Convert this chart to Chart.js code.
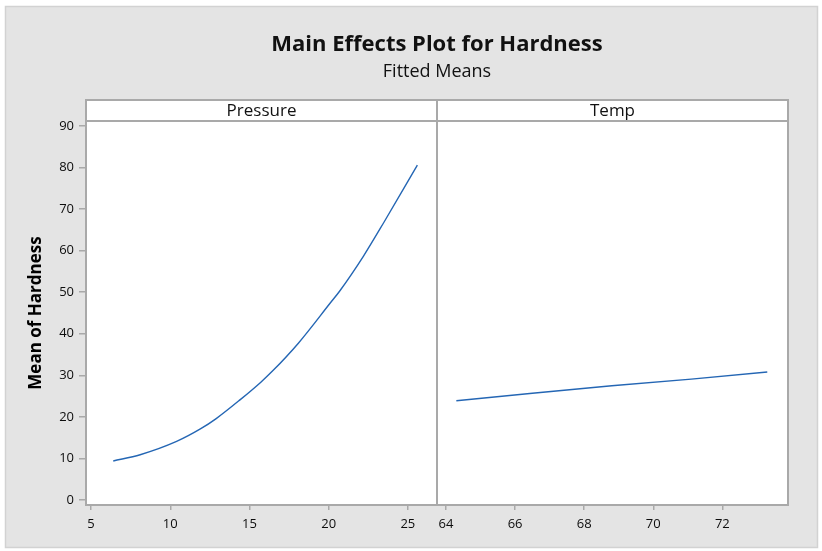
<!DOCTYPE html>
<html>
<head>
<meta charset="utf-8">
<script src="https://cdn.jsdelivr.net/npm/chart.js@4.4.1/dist/chart.umd.min.js"></script>
<style>
  html, body { margin: 0; padding: 0; background: #ffffff; }
  #wrap { position: relative; width: 822px; height: 551px; }
</style>
</head>
<body>
<div id="wrap"><canvas id="chart" width="822" height="551"></canvas></div>
<script>
// Fitted means of Hardness for each factor
const panelNames = ['Pressure', 'Temp'];

const pressureX = [6.4, 8.1, 10.4, 11.9, 12.9, 14.4, 15.7, 16.5, 18.1, 20.1, 20.7, 22.2, 23.5, 25.6];
const pressureY = [9.4, 10.9, 14.1, 17.1, 19.6, 24.1, 28.3, 31.2, 37.8, 47.4, 50.3, 58.7, 66.9, 80.6];

const tempX = [64.3, 66.5, 68.8, 71.1, 73.3];
const tempY = [23.9, 25.7, 27.5, 29.1, 30.8];

const pressureTicks = [5, 10, 15, 20, 25];
const tempTicks = [64, 66, 68, 70, 72];
const hardnessTicks = [0, 10, 20, 30, 40, 50, 60, 70, 80, 90];

const FONT = "'Open Sans', 'Noto Sans', sans-serif";
const FRAME = '#a9a9a9';
const LINE = '#2466b4';
const HEADER_TOP = 100;

const toPoints = (xs, ys) => xs.map((x, i) => ({ x, y: ys[i] }));

// Grey backdrop, white plotting panels, framed panels with header strips
const panelPlugin = {
  id: 'panels',
  beforeDraw(chart) {
    const { ctx, chartArea } = chart;
    ctx.save();
    ctx.fillStyle = '#ffffff';
    ctx.fillRect(0, 0, chart.width, chart.height);
    ctx.fillStyle = '#e4e4e4';
    ctx.fillRect(5, 6, chart.width - 9, chart.height - 9);
    ctx.strokeStyle = '#d2d2d2';
    ctx.lineWidth = 1.5;
    ctx.strokeRect(5.5, 6.5, chart.width - 10, chart.height - 10);
    ctx.fillStyle = '#ffffff';
    ctx.fillRect(chartArea.left, HEADER_TOP, chartArea.right - chartArea.left, chartArea.bottom - HEADER_TOP);
    ctx.restore();
  },
  afterDraw(chart) {
    const { ctx, chartArea } = chart;
    ctx.save();
    ctx.strokeStyle = FRAME;
    ctx.lineWidth = 2;
    ['x1', 'x2'].forEach((id, i) => {
      const s = chart.scales[id];
      ctx.strokeRect(s.left, HEADER_TOP, s.width, chartArea.top - HEADER_TOP);
      ctx.strokeRect(s.left, chartArea.top, s.width, chartArea.bottom - chartArea.top);
      ctx.fillStyle = '#111111';
      ctx.font = "17px " + FONT;
      ctx.textAlign = 'center';
      ctx.textBaseline = 'middle';
      ctx.fillText(panelNames[i], s.left + s.width / 2, (HEADER_TOP + chartArea.top) / 2 + 1);
    });
    ctx.restore();
  }
};

const tickFont = { family: FONT, size: 13 };

function xScale(min, max, ticks) {
  return {
    type: 'linear',
    position: 'bottom',
    stack: 'panels',
    stackWeight: 1,
    min, max,
    afterBuildTicks: s => { s.ticks = ticks.map(v => ({ value: v })); },
    afterFit: s => { s.height = 32; },
    grid: { display: true, drawOnChartArea: false, drawTicks: true, tickLength: 5, color: FRAME, lineWidth: 1.5 },
    border: { display: false },
    ticks: { font: tickFont, color: '#0d0d0d', padding: 6, maxRotation: 0, autoSkip: false }
  };
}

new Chart(document.getElementById('chart'), {
  type: 'line',
  data: {
    datasets: [
      { label: panelNames[0], xAxisID: 'x1', yAxisID: 'y', data: toPoints(pressureX, pressureY),
        borderColor: LINE, borderWidth: 1.4, pointRadius: 0, cubicInterpolationMode: 'monotone', fill: false },
      { label: panelNames[1], xAxisID: 'x2', yAxisID: 'y', data: toPoints(tempX, tempY),
        borderColor: LINE, borderWidth: 1.4, pointRadius: 0, tension: 0, fill: false }
    ]
  },
  options: {
    responsive: false,
    animation: false,
    layout: { padding: { left: 6, right: 34, top: 0, bottom: 14 } },
    plugins: {
      legend: { display: false },
      tooltip: { enabled: false },
      title: {
        display: true, fullSize: false,
        text: 'Main Effects Plot for Hardness',
        color: '#111111',
        font: { family: FONT, size: 22, weight: 'bold' },
        padding: { top: 32, bottom: 0 }
      },
      subtitle: {
        display: true, fullSize: false,
        text: 'Fitted Means',
        color: '#111111',
        font: { family: FONT, size: 18 },
        padding: { top: 3, bottom: 38 }
      }
    },
    scales: {
      x1: xScale(4.68, 26.84, pressureTicks),
      x2: xScale(63.74, 73.9, tempTicks),
      y: {
        type: 'linear',
        position: 'left',
        min: -1.2, max: 91.2,
        afterBuildTicks: s => { s.ticks = hardnessTicks.map(v => ({ value: v })); },
        afterFit: s => { s.width = 80; },
        grid: { display: true, drawOnChartArea: false, drawTicks: true, tickLength: 7, color: FRAME, lineWidth: 1.5 },
        border: { display: false },
        ticks: { font: tickFont, color: '#0d0d0d', padding: 5 },
        title: {
          display: true,
          text: 'Mean of Hardness',
          color: '#000000',
          font: { family: FONT, size: 17, weight: 'bold' },
          padding: { top: 20, bottom: 0 }
        }
      }
    }
  },
  plugins: [panelPlugin]
});
</script>
</body>
</html>
